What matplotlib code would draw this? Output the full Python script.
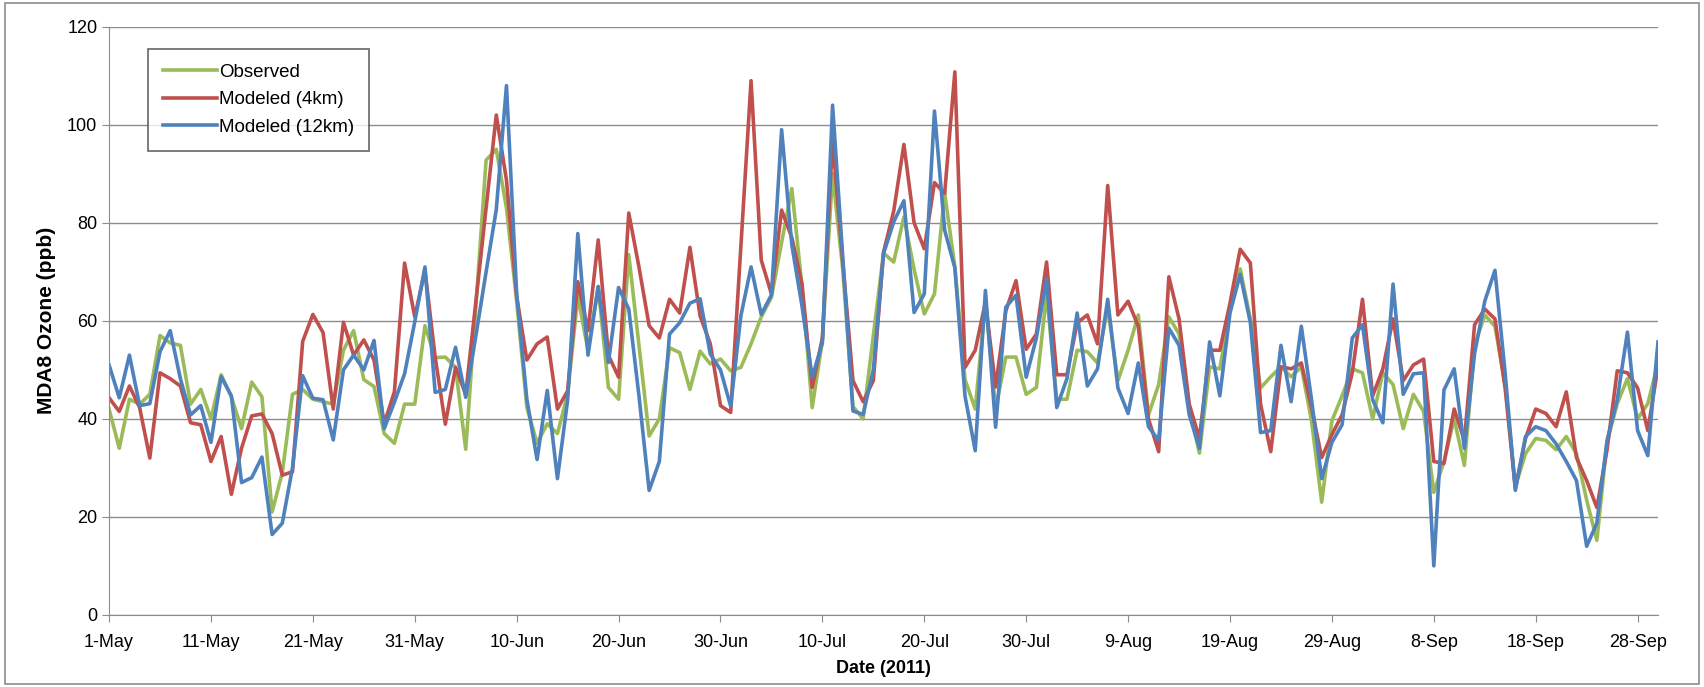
import matplotlib
matplotlib.use("Agg")
import matplotlib.pyplot as plt
import matplotlib.dates as mdates
import pandas as pd
from matplotlib.patches import Rectangle

# daily MDA8 ozone, 1-May-2011 .. 30-Sep-2011
observed = [
    42, 34, 44, 43, 45, 57, 55.5, 55, 43, 46, 40, 49, 44.5, 38, 47.5, 44.5, 21, 29, 45, 46,
    44, 43.5, 43, 54, 58, 48, 46.6, 37, 35, 43, 43, 59, 52.5, 52.6, 50.5, 33.8, 63, 92.8, 95, 83,
    64, 42.3, 35, 39, 37, 45, 65, 54, 67, 46.4, 44, 73.5, 55, 36.5, 40, 54.5, 53.5, 46, 53.8, 51.2,
    52.2, 49.8, 50.5, 55.3, 60.8, 64.8, 76, 87, 67, 42.3, 56, 90, 70.5, 42.5, 40, 57, 73.8, 72, 81.2, 70.5,
    61.4, 65.5, 86, 71, 48, 42, 64, 42, 52.6, 52.6, 45, 46.4, 65.5, 44, 44, 54, 53.7, 51.4, 62.8, 47.8,
    54, 61.2, 40.8, 47, 60.8, 57.3, 42.3, 33, 50.6, 50.2, 62.4, 70.6, 60.4, 46.3, 48.6, 50.6, 48.6, 50.6, 39.6, 23,
    39.6, 44.7, 50.2, 49.4, 40, 49.4, 47, 38, 45, 41.5, 25, 31.3, 40, 30.5, 55, 61.2, 58.9, 47, 26.2, 32.9,
    36, 35.6, 33.7, 36.4, 32.9, 23.4, 15.2, 35.2, 43.1, 48.2, 40, 43.1, 51.4,
]
modeled_4km = [
    44.3, 41.5, 46.7, 42.3, 32, 49.4, 48.2, 46.7, 39.2, 38.8, 31.3, 36.4, 24.6, 34, 40.6, 41, 37, 28.5, 29.2, 55.8,
    61.3, 57.6, 42, 59.7, 53, 56.1, 52, 39, 45.5, 71.8, 60.8, 70.3, 52.6, 38.9, 50.5, 45, 64, 83, 102, 88.7,
    65, 52, 55.3, 56.7, 42, 45.7, 68, 58, 76.5, 53, 48.5, 82, 71, 59, 56.5, 64.4, 61.6, 75, 61, 55.3,
    42.7, 41.3, 75, 109, 72.4, 65.5, 82.6, 77, 67.5, 46.4, 56.5, 97, 72, 47.8, 43.5, 47.8, 74, 82.4, 96, 80,
    74.7, 88.2, 86, 110.8, 50.5, 54, 63.8, 46.5, 62, 68.2, 54.2, 57.3, 72, 49, 49, 59.6, 61.2, 55.3, 87.6, 61.2,
    64, 58.9, 40, 33.3, 69, 60.4, 43, 36, 54, 54, 63.6, 74.6, 71.8, 43, 33.3, 50.6, 50.2, 51.4, 42.3, 32.1,
    36.8, 40.8, 49.4, 64.4, 44.7, 50.2, 60.4, 47.8, 51, 52.2, 31.3, 30.9, 42, 35.6, 59.2, 62.4, 60.4, 46.3, 25.8, 36,
    42, 41.1, 38.4, 45.5, 32.1, 27.4, 21.9, 33.7, 49.8, 49.4, 46.3, 37.6, 50.6,
]
modeled_12km = [
    51, 44.3, 53, 42.7, 43.1, 53.7, 58, 48.2, 40.8, 42.7, 35.2, 48.6, 44.7, 27, 28, 32.2, 16.4, 18.7, 30, 48.8,
    44.2, 43.9, 35.7, 50, 53, 50, 56, 38, 43.4, 49.2, 59.8, 71, 45.4, 46, 54.6, 44.4, 57, 70, 82.7, 108,
    65.5, 44, 31.7, 45.8, 27.8, 43.8, 77.8, 53, 67, 51.5, 66.8, 62.4, 44.7, 25.4, 31.3, 57.3, 59.6, 63.6, 64.5, 53.2,
    50, 42.6, 61, 71, 61.3, 65.3, 99, 75.5, 63, 48.5, 55.5, 104, 73, 41.6, 40.9, 50, 73.7, 80.2, 84.5, 61.7,
    65.5, 102.8, 78.5, 70.8, 44.6, 33.5, 66.2, 38.3, 62.8, 65.2, 48.5, 56.5, 68.6, 42.3, 48.2, 61.6, 46.7, 50.2, 64.4, 46.3,
    41.1, 51.4, 38.4, 35.6, 58.5, 55, 40.8, 34, 55.7, 44.7, 61.6, 69.5, 59.6, 37.2, 37.6, 55, 43.5, 58.9, 43.9, 27.8,
    35.2, 38.8, 56.5, 59.2, 43.9, 39.2, 67.5, 45, 49.2, 49.4, 10, 45.9, 50.2, 34, 53.3, 64, 70.3, 49.4, 25.4, 36.4,
    38.4, 37.6, 34.9, 31.3, 27.4, 14, 18.7, 35.6, 43.9, 57.7, 37.6, 32.5, 55.7,
]
dates = pd.date_range("2011-05-01", periods=len(observed), freq="D")

FONT = ["Liberation Sans", "DejaVu Sans"]
plt.rcParams["font.family"] = FONT

fig = plt.figure(figsize=(17.04, 6.87), dpi=100)
ax = fig.add_axes([0.064, 0.105, 0.909, 0.856])

ax.plot(dates, observed, color="#9BBB59", lw=2.6, label="Observed")
ax.plot(dates, modeled_4km, color="#C0504D", lw=2.6, label="Modeled (4km)")
ax.plot(dates, modeled_12km, color="#4F81BD", lw=2.6, label="Modeled (12km)")

ax.set_xlim(dates[0], dates[-1])
ax.set_ylim(0, 120)
ax.set_yticks(range(0, 121, 20))
ax.set_xticks(pd.date_range("2011-05-01", "2011-09-30", freq="10D"))
ax.xaxis.set_major_formatter(mdates.DateFormatter("%-d-%b"))
ax.yaxis.grid(True, color="#8c8c8c", lw=1)
ax.set_axisbelow(True)
for side in ["top", "right"]:
    ax.spines[side].set_visible(False)
for side in ["left", "bottom"]:
    ax.spines[side].set_color("#8c8c8c")
ax.tick_params(axis="both", colors="#8c8c8c", labelcolor="black", labelsize=13, length=5)
ax.tick_params(axis="x", pad=9)

ax.set_xlabel("Date (2011)", fontsize=13, fontweight="bold", labelpad=6)
ax.set_ylabel("MDA8 Ozone (ppb)", fontsize=15, fontweight="bold", labelpad=8)

leg = ax.legend(loc="upper left", bbox_to_anchor=(0.025, 0.963), fontsize=13.5, frameon=True,
                fancybox=False, edgecolor="#404040", handlelength=2.9, handletextpad=0.1,
                borderpad=0.8, labelspacing=0.55, borderaxespad=0)
leg.get_frame().set_linewidth(1.2)

fig.patches.append(Rectangle((0.003, 0.005), 0.994, 0.99, transform=fig.transFigure,
                             fill=False, edgecolor="#8c8c8c", lw=1.2))

fig.savefig("out.png", dpi=100)
